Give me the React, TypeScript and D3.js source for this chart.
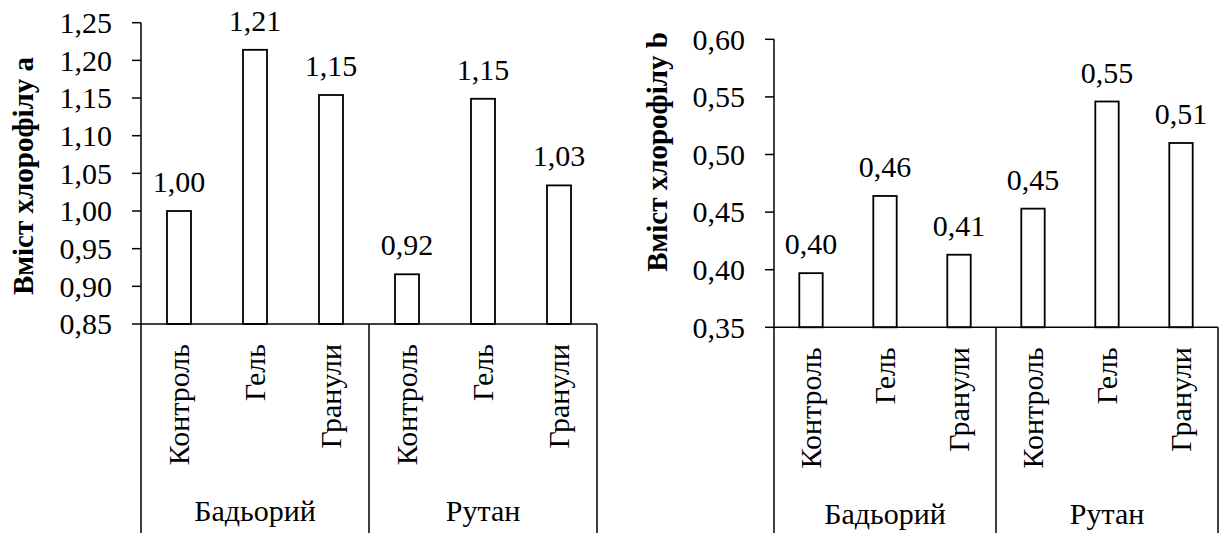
import React from "react";
import * as d3 from "d3";

const categories = ["Контроль", "Гель", "Гранули", "Контроль", "Гель", "Гранули"];
const groups = ["Бадьорий", "Рутан"];

const chlorophyllA = [1.0, 1.214, 1.154, 0.916, 1.149, 1.034];
const chlorophyllB = [0.397, 0.464, 0.413, 0.453, 0.546, 0.51];

const ticksA = [0.85, 0.9, 0.95, 1.0, 1.05, 1.1, 1.15, 1.2, 1.25];
const ticksB = [0.35, 0.4, 0.45, 0.5, 0.55, 0.6];

const titleA = "Вміст хлорофілу а";
const titleB = "Вміст хлорофілу b";

const fmt = d3
  .formatLocale({ decimal: ",", thousands: " ", grouping: [3], currency: ["", ""] })
  .format(".2f");

const FONT = "Liberation Serif, Times New Roman, Times, serif";

type PanelProps = {
  values: number[];
  ticks: number[];
  title: string;
  x0: number;
  x1: number;
  yTop: number;
  yBottom: number;
  titleX: number;
  titleY: number;
};

const Panel = ({ values, ticks, title, x0, x1, yTop, yBottom, titleX, titleY }: PanelProps) => {
  const x = d3
    .scaleBand<number>()
    .domain(d3.range(values.length))
    .range([x0, x1])
    .paddingInner(0.684)
    .paddingOuter(0.342);
  const y = d3
    .scaleLinear()
    .domain([ticks[0], ticks[ticks.length - 1]])
    .range([yBottom, yTop]);

  const groupX = (g: number) => x0 + ((x1 - x0) * g) / groups.length;

  return (
    <g>
      {/* y axis */}
      <line x1={x0} x2={x0} y1={yTop} y2={yBottom} stroke="#000" strokeWidth={1.5} />
      {ticks.map((t) => (
        <g key={t}>
          <line x1={x0 - 9} x2={x0} y1={y(t)} y2={y(t)} stroke="#000" strokeWidth={1.5} />
          <text x={x0 - 29} y={y(t)} dy="0.34em" textAnchor="end" fontSize={30}>
            {fmt(t)}
          </text>
        </g>
      ))}
      <text
        transform={`translate(${titleX},${titleY}) rotate(-90)`}
        textAnchor="middle"
        fontSize={29}
        fontWeight="bold"
      >
        {title}
      </text>

      {/* bars */}
      {values.map((v, i) => {
        const cx = (x(i) as number) + x.bandwidth() / 2;
        return (
          <g key={i}>
            <rect
              x={x(i)}
              y={y(v)}
              width={x.bandwidth()}
              height={yBottom - y(v)}
              fill="#fff"
              stroke="#000"
              strokeWidth={1.8}
            />
            <text x={cx} y={y(v) - 19} textAnchor="middle" fontSize={30}>
              {fmt(v)}
            </text>
            <text
              transform={`translate(${cx},${yBottom + 20}) rotate(-90)`}
              dy="0.34em"
              textAnchor="end"
              fontSize={30}
            >
              {categories[i]}
            </text>
          </g>
        );
      })}

      {/* x axis with group boxes */}
      <line x1={x0} x2={x1} y1={yBottom} y2={yBottom} stroke="#000" strokeWidth={1.5} />
      {d3.range(groups.length + 1).map((g) => (
        <line
          key={g}
          x1={groupX(g)}
          x2={groupX(g)}
          y1={yBottom}
          y2={540}
          stroke="#000"
          strokeWidth={1.5}
        />
      ))}
      {groups.map((name, g) => (
        <text
          key={name}
          x={(groupX(g) + groupX(g + 1)) / 2}
          y={yBottom + 197}
          textAnchor="middle"
          fontSize={30}
        >
          {name}
        </text>
      ))}
    </g>
  );
};

export default function App() {
  return (
    <svg
      width={1219}
      height={533}
      style={{ position: "absolute", left: 0, top: 0, background: "#fff", fontFamily: FONT }}
    >
      <rect width={1219} height={533} fill="#fff" />
      <Panel
        values={chlorophyllA}
        ticks={ticksA}
        title={titleA}
        x0={141}
        x1={597}
        yTop={22.7}
        yBottom={324}
        titleX={33}
        titleY={176}
      />
      <Panel
        values={chlorophyllB}
        ticks={ticksB}
        title={titleB}
        x0={774}
        x1={1218}
        yTop={39.3}
        yBottom={327.3}
        titleX={667}
        titleY={152}
      />
    </svg>
  );
}
